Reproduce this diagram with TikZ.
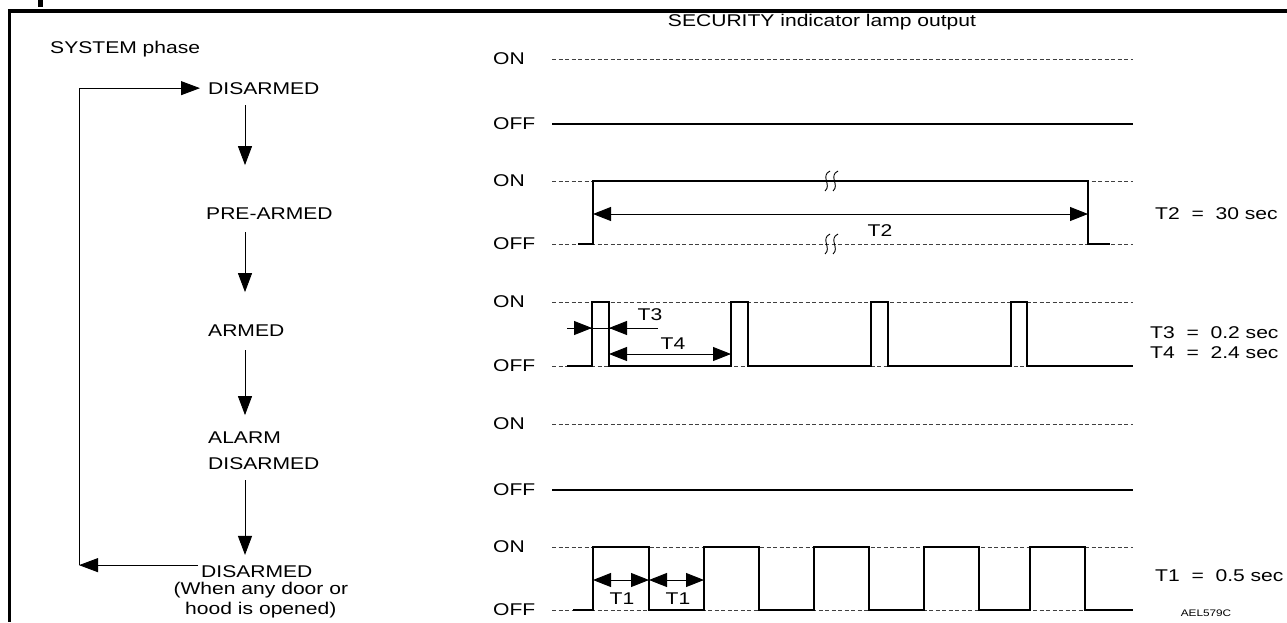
\documentclass[tikz,border=0pt]{standalone}
\usepackage{fontspec}
\setmainfont{Liberation Sans}[FakeStretch=1.24]
\usetikzlibrary{arrows.meta,positioning,calc}

\begin{document}
\begin{tikzpicture}[x=1pt,y=-1pt,
  txt/.style={font=\fontsize{17}{20}\selectfont,inner sep=0pt},
  phase/.style={txt,anchor=base west},
  lvl/.style={txt,anchor=west},
  note/.style={txt,anchor=west},
  refline/.style={black!75,line width=0.7pt,dash pattern=on 4pt off 2.5pt},
  sig/.style={black,line width=1.3pt,line join=miter},
  flow/.style={black,line width=0.9pt,-{Triangle[length=19pt,width=14pt]}},
  dimarr/.style={black,line width=0.9pt,{Triangle[length=18pt,width=14pt]}-{Triangle[length=18pt,width=14pt]}},
  brk/.style={black,line width=0.9pt}]
\useasboundingbox (0,0) rectangle (1287,622);

% frame
\draw[line width=3.5pt] (7.75,11) -- (1287,11);
\draw[line width=3.5pt] (9.5,11) -- (9.5,622);
\fill (38,0) rectangle (43,7);

% headings
\node[txt,anchor=west] (sys) at (50,49) {SYSTEM phase};
\node[txt] (sec) at (822,22) {SECURITY indicator lamp output};

% system phases
\node[phase] (dis) at (208,94) {DISARMED};
\node[phase] (pre) at (206,219) {PRE-ARMED};
\node[phase] (arm) at (208,336) {ARMED};
\node[phase,align=left] (alm) at (208,469) {ALARM\\[6pt]DISARMED};
\node[phase] (disb) at (201,577) {DISARMED};
\node[txt,align=center,below=5pt of disb,xshift=4pt] (cond) {(When any door or\\hood is opened)};

\coordinate (col) at (245,0);
\coordinate (loop) at (79,0);
\draw[flow,shorten <=11pt,shorten >=42pt] (dis.south -| col) -- (pre.north -| col);
\draw[flow,shorten <=13pt,shorten >=32pt] (pre.south -| col) -- (arm.north -| col);
\draw[flow,shorten <=14pt,shorten >=16pt] (arm.south -| col) -- (alm.north -| col);
\draw[flow,shorten <=11pt,shorten >=10pt] (alm.south -| col) -- (disb.north -| col);
\draw[flow,shorten >=8pt] ([yshift=6pt]disb.west -| loop) -- (dis.west -| loop) -- (dis.west);
\draw[flow,shorten <=3pt] ([yshift=6pt]disb.west) -- ([yshift=6pt]disb.west -| loop);

% lamp output levels
\foreach \r/\on/\off in {1/59/124,2/181/244,3/302/366,4/424/490,5/547/610}{
  \node[lvl] (on\r) at (493,\on) {ON};
  \node[lvl] (off\r) at (493,\off) {OFF};
  \draw[refline] (552,\on) -- (1133,\on);
  \draw[refline] (552,\off) -- (1133,\off);
}

% signals
\draw[sig] (552,124) -- (1133,124);
\draw[sig] (578,244) -- (593,244) -- (593,181) -- (1088,181) -- (1088,244) -- (1110,244);
\draw[sig] (567,366) -- (592,366) -- (592,302) -- (609,302) -- (609,366) -- (731,366) -- (731,302) -- (748,302) -- (748,366)
  -- (871,366) -- (871,302) -- (888,302) -- (888,366) -- (1011,366) -- (1011,302) -- (1027,302) -- (1027,366) -- (1133,366);
\draw[sig] (552,490) -- (1133,490);
\draw[sig] (573,610) -- (593,610) -- (593,547) -- (649,547) -- (649,610) -- (704,610) -- (704,547) -- (759,547) -- (759,610)
  -- (814,610) -- (814,547) -- (869,547) -- (869,610) -- (924,610) -- (924,547) -- (979,547) -- (979,610) -- (1030,610)
  -- (1030,547) -- (1085,547) -- (1085,610) -- (1133,610);

% break marks
\foreach \y in {181,244} \foreach \x in {826,834}
  \draw[brk] (\x+4,\y-10) .. controls (\x-6,\y-5) and (\x+6,\y+4) .. (\x-1,\y+10);

% times
\draw[dimarr] (593,214) -- (1088,214);
\draw[black,line width=0.9pt] (567,328) -- (658,328);
\draw[black,line width=0.9pt,-{Triangle[length=18pt,width=14pt]}] (567,328) -- (592,328);
\draw[black,line width=0.9pt,-{Triangle[length=18pt,width=14pt]}] (658,328) -- (609,328);
\draw[dimarr] (609,354) -- (731,354);
\draw[dimarr] (593,580) -- (649,580);
\draw[dimarr] (649,580) -- (704,580);
\node[txt] (t2) at (880,231) {T2};
\node[txt] (t3) at (650,315) {T3};
\node[txt] (t4) at (673,344) {T4};
\node[txt] (t1a) at (622,599) {T1};
\node[txt] (t1b) at (678,599) {T1};

\node[note] (n2) at (1155,214) {T2~~=~~30 sec};
\node[note] (n3) at (1150,333) {T3~~=~~0.2 sec};
\node[note] (n4) at (1150,353) {T4~~=~~2.4 sec};
\node[note] (n1) at (1155,576) {T1~~=~~0.5 sec};
\node[font=\fontsize{9.5}{11}\selectfont,inner sep=0pt] (code) at (1206,613) {AEL579C};
\end{tikzpicture}
\end{document}
